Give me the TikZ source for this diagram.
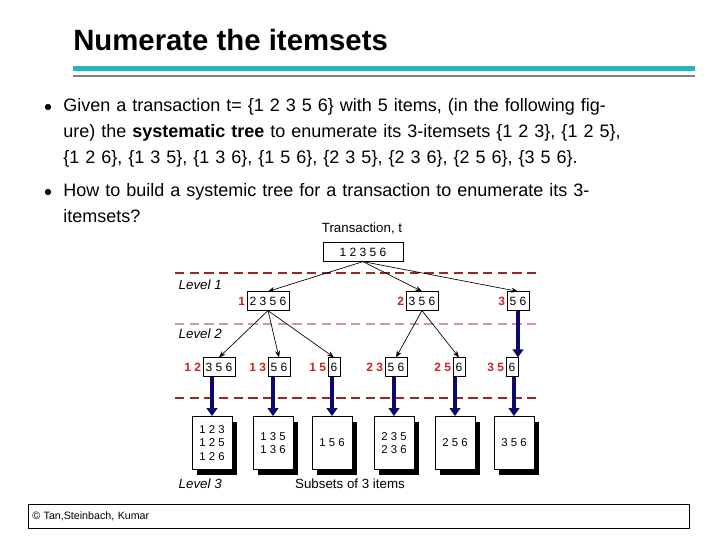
\documentclass[tikz,border=0pt]{standalone}
\usepackage{fontspec}
\setmainfont{Liberation Sans}
\usetikzlibrary{positioning,arrows.meta,shadows}
\definecolor{itemred}{RGB}{205,35,35}
\definecolor{navy}{RGB}{10,10,110}
\definecolor{dashred}{RGB}{150,40,40}
\definecolor{dashpink}{RGB}{215,150,150}
\definecolor{teal}{RGB}{40,180,200}
\begin{document}
\begin{tikzpicture}[x=0.75pt, y=-0.75pt,
    box/.style = {draw, fill=white, inner sep=2pt, minimum height=14pt, font=\fontsize{9}{10}\selectfont},
    pre/.style = {text=itemred, font=\fontsize{9}{10}\selectfont\bfseries, inner sep=1pt},
    leaf/.style = {draw, fill=white, minimum width=30pt, minimum height=40pt, align=center,
        font=\fontsize{8.5}{10}\selectfont, inner sep=1pt,
        drop shadow={shadow xshift=4pt, shadow yshift=-4pt, fill=black, opacity=1}},
    lvl/.style = {font=\fontsize{10}{12}\selectfont\itshape, anchor=west},
    link/.style = {-{Stealth[length=5pt]}, line width=0.5pt},
    feed/.style = {-{Triangle[length=6pt,width=8pt]}, line width=3pt, draw=navy},
    cut/.style = {dashed, dash pattern=on 7pt off 4pt, line width=1pt},
    para/.style = {anchor=north west, text width=420pt, align=left, inner sep=0pt,
        font=\fontsize{13.5}{19.5}\selectfont}]
  \useasboundingbox (0,0) rectangle (720,540);
  % title and rules
  \node[font=\fontsize{22}{26}\selectfont\bfseries, anchor=west, inner sep=0pt] (title) at (73,40) {Numerate the itemsets};
  \fill[teal] (73,66) rectangle (695,71);
  \draw[gray, line width=1pt] (73,76) -- (695,76);
  % bullets
  \node[font=\fontsize{13}{14}\selectfont] (b1) at (48,108) {$\bullet$};
  \node[font=\fontsize{13}{14}\selectfont] (b2) at (48,193) {$\bullet$};
  \node[para] (t1) at (63,98)
    {Given a transaction t= \{1 2 3 5 6\} with 5 items, (in the following figure) the \textbf{systematic tree} to enumerate its 3-itemsets \{1 2 3\}, \{1 2 5\}, \{1 2 6\}, \{1 3 5\}, \{1 3 6\}, \{1 5 6\}, \{2 3 5\}, \{2 3 6\}, \{2 5 6\}, \{3 5 6\}.};
  \node[para] (t2) at (63,183)
    {How to build a systemic tree for a transaction to enumerate its 3-\\itemsets?};
  % footer
  \node[draw, anchor=west, minimum width=496pt, minimum height=18pt, inner sep=2pt,
        font=\fontsize{8}{10}\selectfont, text width=490pt] (foot) at (28,516) {© Tan,Steinbach, Kumar};
  % tree
  \node[font=\fontsize{10}{12}\selectfont] (tlab) at (362,229) {Transaction, t};
  \node[box, minimum width=60pt] (root) at (363,252) {1 2 3 5 6};
  \draw[cut, dashred] (175,273) -- (540,273);
  \node[lvl] (lv1) at (174,285) {Level 1};
  \node[box] (n1) at (268,301) {2 3 5 6};
  \node[box] (n2) at (422,301) {3 5 6};
  \node[box] (n3) at (518,301) {5 6};
  \node[pre, left=0pt of n1] (p1) {1};
  \node[pre, left=0pt of n2] (p2) {2};
  \node[pre, left=0pt of n3] (p3) {3};
  \draw[cut, dashpink] (175,324) -- (540,324);
  \node[lvl] (lv2) at (174,334) {Level 2};
  \node[box] (n12) at (219,367) {3 5 6};
  \node[box] (n13) at (279,367) {5 6};
  \node[box] (n15) at (334,367) {6};
  \node[box] (n23) at (396,367) {5 6};
  \node[box] (n25) at (459,367) {6};
  \node[box] (n35) at (512,367) {6};
  \node[pre, left=0pt of n12] (p12) {1 2};
  \node[pre, left=0pt of n13] (p13) {1 3};
  \node[pre, left=0pt of n15] (p15) {1 5};
  \node[pre, left=0pt of n23] (p23) {2 3};
  \node[pre, left=0pt of n25] (p25) {2 5};
  \node[pre, left=0pt of n35] (p35) {3 5};
  \draw[cut, dashred] (175,398) -- (540,398);
  % leaves
  \foreach \x/\nm/\txt in {212/l1/{1 2 3\\1 2 5\\1 2 6}, 273/l2/{1 3 5\\1 3 6}, 332/l3/{1 5 6},
                           394/l4/{2 3 5\\2 3 6}, 455/l5/{2 5 6}, 514/l6/{3 5 6}}
    {\node[leaf] (\nm) at (\x,443) {\txt};}
  \node[lvl] (lv3) at (174,484) {Level 3};
  \node[font=\fontsize{10}{12}\selectfont] (sub) at (350,484) {Subsets of 3 items};
  % connectors
  \draw[link] (root.south) -- (n1.north);
  \draw[link] (root.south) -- (n2.north);
  \draw[link] (root.south) -- (n3.north);
  \draw[link] (n1.south) -- (n12.north);
  \draw[link] (n1.south) -- (n13.north);
  \draw[link] (n1.south) -- (n15.north);
  \draw[link] (n2.south) -- (n23.north);
  \draw[link] (n2.south) -- (n25.north);
  \draw[feed] (n3.south) -- (n35.north -| n3.south);
  \draw[feed] (n12.south -| l1.north) -- (l1.north);
  \draw[feed] (n13.south -| l2.north) -- (l2.north);
  \draw[feed] (n15.south -| l3.north) -- (l3.north);
  \draw[feed] (n23.south -| l4.north) -- (l4.north);
  \draw[feed] (n25.south -| l5.north) -- (l5.north);
  \draw[feed] (n35.south -| l6.north) -- (l6.north);
\end{tikzpicture}
\end{document}
